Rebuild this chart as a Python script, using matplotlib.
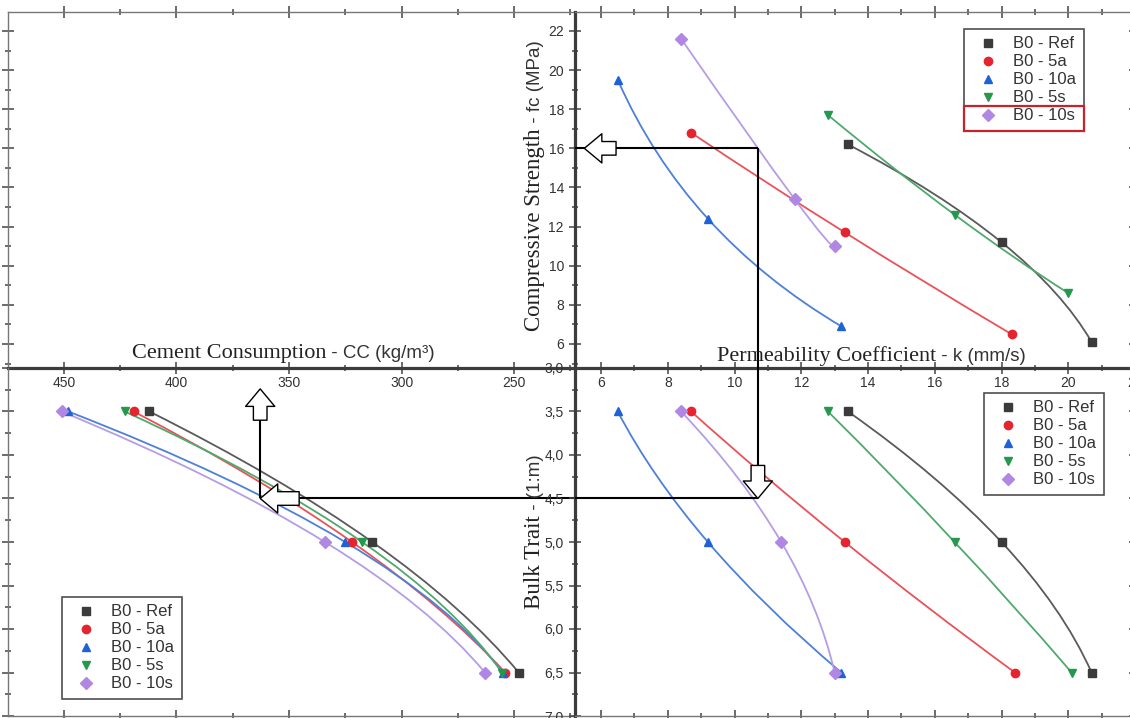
import matplotlib
matplotlib.use('Agg')
import matplotlib.pyplot as plt
from matplotlib.path import Path
from matplotlib.patches import PathPatch, Rectangle
from matplotlib.ticker import MultipleLocator, FuncFormatter

plt.rcParams['font.family'] = ['Liberation Sans', 'DejaVu Sans']
SERIF = ['Liberation Serif', 'DejaVu Serif']

# series
names = ['B0 - Ref', 'B0 - 5a', 'B0 - 10a', 'B0 - 5s', 'B0 - 10s']
markers = ['s', 'o', '^', 'v', 'D']
mcolors = ['#3b3b3b', '#e4252f', '#1f62d8', '#24984c', '#b088e4']
lcolors = ['#5a5a5a', '#e8525a', '#4d80d8', '#4fa96c', '#b59de4']

# top right: permeability coefficient k vs compressive strength fc
k_fc = [[13.4, 18.0, 20.7], [8.7, 13.3, 18.3], [6.5, 9.2, 13.2],
        [12.8, 16.6, 20.0], [8.4, 11.8, 13.0]]
fc = [[16.2, 11.2, 6.1], [16.8, 11.7, 6.5], [19.5, 12.4, 6.9],
      [17.7, 12.6, 8.6], [21.6, 13.4, 11.0]]

# bottom right: k vs bulk trait
bulk = [3.5, 5.0, 6.5]
k_bt = [[13.4, 18.0, 20.7], [8.7, 13.3, 18.4], [6.5, 9.2, 13.2],
        [12.8, 16.6, 20.1], [8.4, 11.4, 13.0]]

# bottom left: cement consumption vs bulk trait
cc = [[412, 313, 248], [419, 322, 254], [448, 325, 255],
      [423, 317.5, 255.5], [451, 334, 263]]

# reading path of the nomogram
k_read, fc_read, bulk_read, cc_read = 10.7, 16.0, 4.5, 362.8

# axis ranges
cc_lim = (474.8, 223.0)
k_lim = (5.22, 22.0)
fc_lim = (4.77, 22.97)
bulk_lim = (7.0, 3.0)

W, H = 1130, 718
fig = plt.figure(figsize=(W / 100, H / 100), dpi=100)


def pos(x0, y0, x1, y1):
    return [x0 / W, 1 - y1 / H, (x1 - x0) / W, (y1 - y0) / H]


cx, cy = 575, 368
ax_tl = fig.add_axes(pos(8, 12, cx, cy))
ax_bl = fig.add_axes(pos(8, cy, cx, 716))
ax_tr = fig.add_axes(pos(cx, 12, 1135, cy))
ax_br = fig.add_axes(pos(cx, cy, 1135, 716))

for z, ax in enumerate([ax_tl, ax_bl, ax_tr, ax_br]):
    ax.set_zorder(z + 1)
    ax.patch.set_alpha(0)
    for s in ax.spines.values():
        s.set_color('#777777')
        s.set_linewidth(1.0)
    ax.tick_params(which='both', direction='inout', color='#444444',
                   labelcolor='#333333', labelsize=10, width=1.1)
    ax.tick_params(which='major', length=8)
    ax.tick_params(which='minor', length=4.5)

ax_tl.set_xlim(cc_lim)
ax_tl.set_ylim(fc_lim)
ax_bl.set_xlim(cc_lim)
ax_bl.set_ylim(bulk_lim)
ax_tr.set_xlim(k_lim)
ax_tr.set_ylim(fc_lim)
ax_br.set_xlim(k_lim)
ax_br.set_ylim(bulk_lim)

for ax in [ax_tl, ax_bl]:
    ax.xaxis.set_major_locator(MultipleLocator(50))
    ax.xaxis.set_minor_locator(MultipleLocator(25))
for ax in [ax_tr, ax_br]:
    ax.xaxis.set_major_locator(MultipleLocator(2))
    ax.xaxis.set_minor_locator(MultipleLocator(1))
for ax in [ax_tl, ax_tr]:
    ax.yaxis.set_major_locator(MultipleLocator(2))
    ax.yaxis.set_minor_locator(MultipleLocator(1))
for ax in [ax_bl, ax_br]:
    ax.yaxis.set_major_locator(MultipleLocator(0.5))
    ax.yaxis.set_minor_locator(MultipleLocator(0.25))

# central cross
for sp in [ax_tl.spines['bottom'], ax_tr.spines['bottom'],
           ax_tr.spines['left'], ax_br.spines['left']]:
    sp.set_color('#3c3c3c')
    sp.set_linewidth(2.3)
ax_tl.spines['right'].set_visible(False)
ax_bl.spines['right'].set_visible(False)
ax_bl.spines['top'].set_visible(False)
ax_br.spines['top'].set_visible(False)

ax_tl.tick_params(axis='x', which='both', top=True, bottom=True,
                  labelbottom=True, pad=2)
ax_tl.tick_params(axis='y', which='both', left=True, right=False,
                  labelleft=False)
ax_tr.tick_params(axis='x', which='both', top=True, bottom=True,
                  labelbottom=True, pad=2)
ax_tr.tick_params(axis='y', which='both', left=True, right=True,
                  labelleft=True, pad=4)
ax_bl.tick_params(axis='x', which='both', top=False, bottom=True,
                  labelbottom=False)
ax_bl.tick_params(axis='y', which='both', left=True, right=False,
                  labelleft=False)
ax_br.tick_params(axis='x', which='both', top=False, bottom=True,
                  labelbottom=False)
ax_br.tick_params(axis='y', which='both', left=True, right=True,
                  labelleft=True, pad=4)
ax_br.yaxis.set_major_formatter(
    FuncFormatter(lambda v, p: f'{v:.1f}'.replace('.', ',')))


def smooth(ax, xs, ys, color):
    # quadratic curve passing through the middle point
    ctrl = (2 * xs[1] - (xs[0] + xs[2]) / 2, 2 * ys[1] - (ys[0] + ys[2]) / 2)
    path = Path([(xs[0], ys[0]), ctrl, (xs[2], ys[2])],
                [Path.MOVETO, Path.CURVE3, Path.CURVE3])
    ax.add_patch(PathPatch(path, fill=False, ec=color, lw=1.3, zorder=3))


for i in range(5):
    smooth(ax_tr, k_fc[i], fc[i], lcolors[i])
    ax_tr.plot(k_fc[i], fc[i], ls='none', marker=markers[i], ms=6,
               color=mcolors[i], zorder=4, label=names[i])
    smooth(ax_br, k_bt[i], bulk, lcolors[i])
    ax_br.plot(k_bt[i], bulk, ls='none', marker=markers[i], ms=6,
               color=mcolors[i], zorder=4, label=names[i])
    smooth(ax_bl, cc[i], bulk, lcolors[i])
    ax_bl.plot(cc[i], bulk, ls='none', marker=markers[i], ms=6,
               color=mcolors[i], zorder=4, label=names[i])

# reading path lines
lk = dict(color='black', lw=1.5, zorder=5)
ax_tr.vlines(k_read, fc_lim[0], fc_read, **lk)
ax_tr.hlines(fc_read, k_lim[0], k_read, **lk)
ax_br.vlines(k_read, bulk_lim[1], bulk_read, **lk)
ax_br.hlines(bulk_read, k_lim[0], k_read, **lk)
ax_bl.hlines(bulk_read, cc_read, cc_lim[1], **lk)
ax_bl.vlines(cc_read, bulk_read, 3.3, **lk)

arr = dict(arrowstyle='simple,head_length=0.9,head_width=1.5,tail_width=0.7',
           fc='white', ec='black', lw=1.0, shrinkA=0, shrinkB=0,
           mutation_scale=14)
ax_tr.annotate('', xy=(5.5, fc_read), xytext=(6.45, fc_read),
               arrowprops=arr, zorder=6)
ax_br.annotate('', xy=(k_read, bulk_read), xytext=(k_read, 4.12),
               arrowprops=arr, zorder=6)
ax_bl.annotate('', xy=(cc_read, bulk_read), xytext=(345.5, bulk_read),
               arrowprops=arr, zorder=6)
ax_bl.annotate('', xy=(cc_read, 3.24), xytext=(cc_read, 3.6),
               arrowprops=arr, zorder=6)

# legends
leg_kw = dict(fontsize=12, frameon=True, fancybox=False, borderpad=0.45,
              handlelength=2.0, handletextpad=0.5, labelspacing=0.18,
              borderaxespad=0, loc='upper left',
              bbox_transform=fig.transFigure)
legs = []
for ax, x0, y0 in [(ax_tr, 964, 29), (ax_br, 984, 393), (ax_bl, 62, 597)]:
    leg = ax.legend(bbox_to_anchor=(x0 / W, 1 - y0 / H), **leg_kw)
    leg.get_frame().set_edgecolor('#222222')
    leg.get_frame().set_linewidth(1.2)
    for t in leg.get_texts():
        t.set_color('#333333')
    legs.append(leg)

# red box round the last entry of the top legend
fig.canvas.draw()
lb = legs[0].get_frame().get_window_extent()
tb = legs[0].get_texts()[-1].get_window_extent()
fig.add_artist(Rectangle((lb.x0 / W, lb.y0 / H), lb.width / W,
                         (tb.y1 + 2 - lb.y0) / H,
                         transform=fig.transFigure, fill=False,
                         ec='#c8232c', lw=1.6, zorder=20))

# axis titles (serif name + sans symbol)
tk = dict(color='#222222', fontsize=16, family=SERIF)
sk = dict(color='#333333', fontsize=13.5)
fig.text(326 / W, 1 - 358 / H, 'Cement Consumption', ha='right',
         va='baseline', **tk)
fig.text(326 / W, 1 - 358 / H, ' - CC (kg/m³)', ha='left',
         va='baseline', **sk)
fig.text(936 / W, 1 - 361 / H, 'Permeability Coefficient', ha='right',
         va='baseline', zorder=10, **tk)
fig.text(936 / W, 1 - 361 / H, ' - k (mm/s)', ha='left',
         va='baseline', zorder=10, **sk)
fig.text(540 / W, 1 - 128 / H, 'Compressive Strength', rotation=90,
         rotation_mode='anchor', ha='right', va='baseline',
         **dict(tk, fontsize=16.5))
fig.text(540 / W, 1 - 128 / H, ' - fc (MPa)', rotation=90,
         rotation_mode='anchor', ha='left', va='baseline', **sk)
fig.text(540 / W, 1 - 515 / H, 'Bulk Trait', rotation=90,
         rotation_mode='anchor', ha='right', va='baseline',
         **dict(tk, fontsize=16.5))
fig.text(540 / W, 1 - 515 / H, ' - (1:m)', rotation=90,
         rotation_mode='anchor', ha='left', va='baseline', **sk)

fig.savefig('out.png', dpi=100, facecolor='white')
